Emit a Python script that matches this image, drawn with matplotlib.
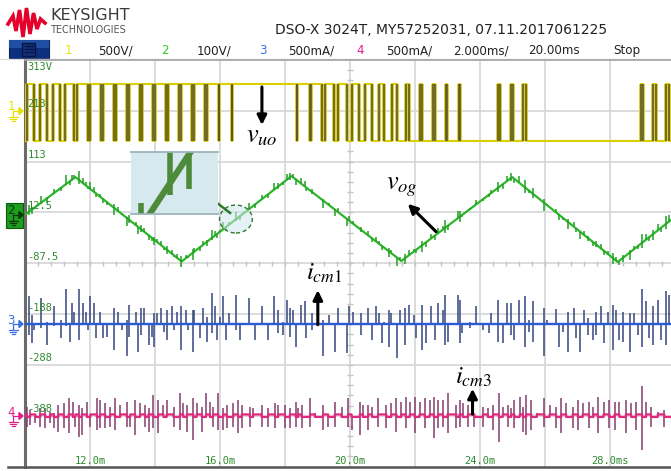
import numpy as np
import matplotlib.pyplot as plt
from matplotlib.patches import Rectangle, Ellipse, Polygon
from matplotlib.collections import LineCollection

plt.rcParams['mathtext.fontset'] = 'stix'

W, H = 671, 471

# scope screen: 10 x 2 ms/div, 8 vertical divisions
T0, T1 = 10.0, 30.0
time_ticks = [12, 16, 20, 24, 28]
time_labels = ["12.0m", "16.0m", "20.0m", "24.0m", "28.0ms"]
ch2_labels = ["313V", "213", "113", "12.5", "-87.5", "-188", "-288", "-388"]

# header
title = "DSO-X 3024T, MY57252031, 07.11.2017061225"
ch_names = ["1", "2", "3", "4"]
ch_scales = ["500V/", "100V/", "500mA/", "500mA/"]
timebase = "2.000ms/"
delay = "20.00ms"
run_state = "Stop"

# ch1 v_uo, 500 V/div, PWM at 0.4 ms, high-time fraction per period
ch1_ground = 7.0
vuo_high, vuo_low = 265, -295
pwm_period = 0.4
pwm_first = 10.17
vuo_duty = [0.47, 0.61, 0.61, 0.69, 0.82, 0.86, 0.86, 0.87, 0.87, 0.88,
            0.88, 0.89, 0.90, 0.91, 0.92, 0.95, 1.0, 1.0, 1.0, 1.0,
            1.0, 0.96, 0.90, 0.75, 0.65, 0.60, 0.55, 0.45, 0.35, 0.18,
            0.15, 0.15, 0.14, 0.12, 0.0, 0.0, 0.15, 0.15, 0.20, 0.0,
            0.0, 0.0, 0.0, 0.0, 0.0, 0.0, 0.0, 0.15, 0.20, 0.25]

# ch2 v_og, 100 V/div, triangle corners
ch2_ground = 4.875
vog_t = [10.0, 11.55, 14.82, 18.20, 21.58, 24.99, 28.24, 30.0]
vog_v = [8, 82, -84, 84, -83, 82, -85, 4]

# ch3 i_cm1, 500 mA/div: spike time (ms), positive and negative peak (mA)
ch3_ground = 2.80
icm1_t = [10.11, 10.21, 10.29, 10.49, 10.69, 10.88, 11.11, 11.26, 11.39, 11.44,
          11.51, 11.65, 11.77, 11.87, 11.95, 12.01, 12.13, 12.19, 12.31, 12.40,
          12.52, 12.75, 12.85, 12.98, 13.13, 13.20, 13.41, 13.49, 13.56, 13.67,
          13.80, 13.90, 13.97, 14.06, 14.19, 14.29, 14.36, 14.53, 14.59, 14.67,
          14.80, 14.95, 15.03, 15.16, 15.20, 15.39, 15.47, 15.59, 15.75, 15.85,
          15.90, 16.00, 16.10, 16.18, 16.29, 16.49, 16.62, 16.89, 17.08, 17.28,
          17.48, 17.66, 17.79, 17.94, 18.05, 18.15, 18.25, 18.33, 18.48, 18.61,
          18.66, 18.84, 19.17, 19.35, 19.53, 19.63, 19.91, 19.97, 20.10, 20.33,
          20.56, 20.68, 20.79, 20.89, 20.97, 21.06, 21.20, 21.27, 21.45, 21.55,
          21.68, 21.82, 21.97, 22.04, 22.20, 22.35, 22.50, 22.61, 22.71, 22.86,
          22.93, 23.03, 23.32, 23.37, 23.46, 23.70, 23.89, 24.09, 24.29, 24.35,
          24.55, 24.70, 24.83, 24.96, 25.06, 25.19, 25.37, 25.52, 25.63, 25.98,
          26.06, 26.34, 26.42, 26.55, 26.70, 26.88, 26.96, 27.09, 27.21, 27.32,
          27.47, 27.57, 27.73, 27.80, 27.93, 28.08, 28.19, 28.29, 28.39, 28.60,
          28.75, 28.85, 28.99, 29.11, 29.21, 29.31, 29.47, 29.57, 29.72, 29.80]
icm1_pos = [274, 92, 0, 257, 20, 175, 43, 347, 0, 208,
            125, 347, 208, 125, 0, 280, 208, 0, 125, 0,
            0, 158, 125, 0, 43, 191, 125, 0, 158, 158,
            0, 0, 109, 109, 158, 0, 142, 175, 0, 125,
            182, 142, 0, 142, 142, 0, 158, 76, 307, 182,
            0, 76, 274, 0, 109, 290, 0, 257, 0, 175,
            0, 274, 142, 26, 241, 158, 142, 0, 191, 224,
            0, 110, 43, 92, 0, 158, 0, 175, 125, 109,
            158, 0, 175, 109, 0, 26, 142, 109, 0, 142,
            158, 191, 92, 0, 191, 0, 175, 0, 208, 142,
            290, 0, 290, 240, 0, 26, 175, 0, 0, 109,
            241, 0, 208, 208, 0, 241, 274, 43, 224, 158,
            43, 149, 0, 0, 125, 158, 0, 0, 142, 59,
            0, 125, 175, 0, 125, 191, 142, 0, 125, 109,
            109, 0, 347, 224, 0, 175, 241, 0, 323, 290]
icm1_neg = [106, 188, 56, 40, 205, 20, 139, 20, 172, 0,
            0, 155, 0, 0, 56, 0, 0, 139, 0, 139,
            122, 254, 0, 56, 314, 122, 0, 271, 106, 0,
            205, 122, 221, 0, 0, 73, 155, 0, 56, 0,
            254, 0, 56, 271, 0, 139, 0, 172, 89, 0,
            155, 0, 0, 155, 0, 56, 155, 0, 155, 0,
            155, 0, 89, 106, 0, 122, 0, 221, 0, 0,
            139, 56, 314, 0, 271, 0, 287, 0, 0, 106,
            0, 155, 0, 0, 188, 0, 221, 0, 337, 0,
            205, 0, 0, 139, 254, 188, 0, 155, 0, 0,
            205, 172, 0, 188, 89, 40, 0, 56, 89, 0,
            172, 188, 0, 106, 155, 0, 221, 73, 172, 314,
            0, 0, 221, 73, 271, 0, 139, 271, 0, 106,
            155, 106, 0, 188, 0, 254, 0, 155, 172, 271,
            0, 106, 221, 0, 139, 205, 0, 155, 205, 0]

# ch4 i_cm3, 500 mA/div
ch4_ground = 1.0
icm3_t = [10.06, 10.16, 10.32, 10.47, 10.62, 10.78, 10.88, 11.03, 11.19, 11.34,
          11.47, 11.55, 11.65, 11.75, 11.90, 12.01, 12.21, 12.31, 12.47, 12.62,
          12.77, 12.93, 13.13, 13.24, 13.39, 13.54, 13.70, 13.80, 13.95, 14.10,
          14.26, 14.36, 14.57, 14.77, 14.87, 14.98, 15.18, 15.28, 15.44, 15.57,
          15.69, 15.79, 15.95, 16.10, 16.21, 16.41, 16.56, 16.67, 16.92, 17.02,
          17.28, 17.48, 17.69, 17.79, 18.00, 18.15, 18.33, 18.41, 18.51, 18.77,
          18.92, 19.17, 19.33, 19.53, 19.74, 19.94, 20.05, 20.30, 20.40, 20.56,
          20.68, 20.86, 21.12, 21.27, 21.43, 21.58, 21.71, 21.84, 21.99, 22.14,
          22.30, 22.45, 22.58, 22.71, 22.86, 23.00, 23.27, 23.37, 23.47, 23.63,
          23.83, 24.09, 24.24, 24.40, 24.58, 24.70, 24.86, 24.96, 25.06, 25.22,
          25.32, 25.42, 25.58, 25.75, 25.98, 26.14, 26.34, 26.50, 26.65, 26.85,
          27.01, 27.16, 27.35, 27.49, 27.62, 27.80, 27.98, 28.14, 28.29, 28.49,
          28.65, 28.80, 28.99, 29.11, 29.26, 29.47, 29.67]
icm3_pos = [89, 56, 0, 73, 73, 40, 23, 106, 122, 172,
            139, 0, 106, 73, 139, 0, 172, 155, 122, 89,
            172, 106, 139, 0, 155, 122, 106, 73, 205, 155,
            106, 155, 89, 221, 122, 106, 172, 122, 89, 221,
            139, 89, 221, 73, 106, 122, 155, 106, 89, 73,
            106, 73, 122, 106, 106, 73, 139, 73, 106, 172,
            23, 106, 0, 139, 89, 172, 0, 139, 106, 106,
            89, 172, 106, 122, 172, 139, 188, 139, 188, 139,
            172, 155, 188, 155, 155, 221, 106, 155, 122, 106,
            0, 89, 73, 106, 221, 89, 106, 73, 155, 188,
            89, 205, 155, 23, 172, 106, 89, 172, 122, 89,
            155, 122, 139, 89, 188, 139, 155, 139, 139, 155,
            122, 139, 294, 139, 89, 40, 56]
icm3_neg = [109, 92, 76, 109, 125, 76, 125, 158, 125, 175,
            0, 109, 208, 191, 0, 109, 142, 125, 125, 109,
            142, 0, 109, 109, 191, 0, 109, 158, 125, 175,
            0, 0, 109, 142, 0, 158, 241, 0, 158, 0,
            0, 109, 142, 142, 125, 109, 175, 125, 109, 0,
            109, 109, 125, 0, 125, 125, 109, 0, 125, 109,
            0, 142, 109, 109, 0, 109, 142, 191, 0, 142,
            0, 109, 125, 0, 158, 0, 125, 0, 175, 0,
            125, 0, 224, 125, 109, 175, 125, 109, 0, 109,
            109, 109, 0, 142, 257, 0, 109, 0, 125, 0,
            158, 191, 142, 0, 109, 0, 125, 175, 0, 125,
            142, 0, 125, 0, 175, 0, 125, 142, 0, 175,
            0, 142, 340, 0, 109, 0, 109]

fig = plt.figure(figsize=(W / 100, H / 100), dpi=100, facecolor='white')

# overlay in pixel units for the scope frame
ov = fig.add_axes([0, 0, 1, 1])
ov.set_xlim(0, W)
ov.set_ylim(H, 0)
ov.axis('off')

ax = fig.add_axes([25 / W, (H - 466.5) / H, 650 / W, (466.5 - 60) / H])
ax.set_zorder(2)
ax.set_xlim(T0, T1)
ax.set_ylim(0, 8)
ax.set_xticks([])
ax.set_yticks([])
ax.set_facecolor('white')
ax.spines['right'].set_visible(False)
ax.spines['left'].set_color('#6b6b6b')
ax.spines['left'].set_linewidth(2.2)
ax.spines['top'].set_color('#a8a8a8')
ax.spines['top'].set_linewidth(1.3)
ax.spines['bottom'].set_color('#555555')
ax.spines['bottom'].set_linewidth(1.8)

# graticule
gcol = '#d6d6d6'
for t in np.arange(12, 30, 2):
    ax.axvline(t, color=gcol, lw=1.2, zorder=0)
for d in range(1, 8):
    ax.axhline(d, color=gcol, lw=1.2, zorder=0)
xt = np.arange(T0 + 0.4, T1, 0.4)
ax.add_collection(LineCollection([[(t, 3.955), (t, 4.045)] for t in xt],
                                 colors='#c4c4c4', lw=1.0, zorder=0.5))
yt = np.arange(0.2, 8, 0.2)
ax.add_collection(LineCollection([[(19.9, d), (20.1, d)] for d in yt],
                                 colors='#c4c4c4', lw=1.0, zorder=0.5))

lab_col = '#2f8a2f'
for i, s in enumerate(ch2_labels):
    d = 8 - i
    if i == 0:
        ax.text(10.08, d - 0.03, s, color=lab_col, fontsize=7.5, family='DejaVu Sans Mono',
                va='top', ha='left', zorder=9)
    else:
        ax.text(10.08, d + 0.03, s, color=lab_col, fontsize=7.5, family='DejaVu Sans Mono',
                va='bottom', ha='left', zorder=9)
for t, s in zip(time_ticks, time_labels):
    ax.text(t, 0.1, s, color=lab_col, fontsize=7.5, family='DejaVu Sans Mono',
            ha='center', va='center', zorder=9)

# ch1 PWM
highs = []
for k, dty in enumerate(vuo_duty):
    if dty <= 0:
        continue
    c = pwm_first + k * pwm_period
    a, b = c - dty * pwm_period / 2, c + dty * pwm_period / 2
    if highs and a <= highs[-1][1] + 1e-6:
        highs[-1] = (highs[-1][0], b)
    else:
        highs.append((a, b))
yh = ch1_ground + vuo_high / 500
yl = ch1_ground + vuo_low / 500
xs, ys, edges = [T0], [yl], []
for a, b in highs:
    a, b = max(a, T0), min(b, T1)
    xs += [a, a, b, b]
    ys += [yl, yh, yh, yl]
    edges += [[(a, yl), (a, yh)], [(b, yl), (b, yh)]]
xs.append(T1)
ys.append(yl)
ax.plot(xs, ys, color='#dccf00', lw=1.5, zorder=3)
ax.add_collection(LineCollection(edges, colors='#d8cc30', lw=2.8, zorder=3.1))
ax.add_collection(LineCollection(edges, colors='#55521f', lw=1.1, zorder=3.2))

# ch2 triangle with switching ripple at the i_cm1 events
g_div = ch2_ground + np.array(vog_v) / 100
ax.plot(vog_t, g_div, color='#2db52d', lw=1.6, zorder=3)
base = np.interp(icm1_t, vog_t, g_div)
gt = [[(t, b - 0.0005 * n), (t, b + 0.0005 * p)]
      for t, b, p, n in zip(icm1_t, base, icm1_pos, icm1_neg)]
ax.add_collection(LineCollection(gt, colors='#22a022', lw=1.1, zorder=3))

# ch3
b3 = ch3_ground
ax.vlines(icm1_t, b3 - np.array(icm1_neg) / 500, b3 + np.array(icm1_pos) / 500,
          colors='#35477f', lw=1.1, zorder=3)
ax.plot([T0, T1], [b3, b3], color='#2a5ad4', lw=1.7, zorder=4)

# ch4
b4 = ch4_ground
ax.vlines(icm3_t, b4 - np.array(icm3_neg) / 500, b4 + np.array(icm3_pos) / 500,
          colors='#843c6c', lw=1.1, zorder=3)
lx, ly, lvl = [T0], [b4], 1
for t in icm3_t:
    lx += [t, t]
    ly += [b4 + 0.025 * lvl, b4 - 0.025 * lvl]
    lvl = -lvl
lx.append(T1)
ly.append(ly[-1])
ax.plot(lx, ly, color='#e0287e', lw=1.6, zorder=4)

# annotations
arr = dict(arrowstyle='-|>', lw=2.2, color='black', mutation_scale=14, shrinkA=0, shrinkB=0)
ax.annotate('', xy=(17.29, 6.72), xytext=(17.29, 7.47), arrowprops=arr, zorder=10)
ax.text(17.3, 6.52, r'$v_{uo}$', fontsize=19, ha='center', va='center', zorder=10)
ax.annotate('', xy=(21.78, 5.17), xytext=(22.65, 4.62), arrowprops=arr, zorder=10)
ax.text(21.6, 5.52, r'$v_{og}$', fontsize=19, ha='center', va='center', zorder=10)
ax.annotate('', xy=(19.01, 3.47), xytext=(19.01, 2.79), arrowprops=arr, zorder=10)
ax.text(19.2, 3.8, r'$i_{\mathit{cm1}}$', fontsize=18, ha='center', va='center', zorder=10)
ax.annotate('', xy=(23.77, 1.53), xytext=(23.77, 1.03), arrowprops=arr, zorder=10)
ax.text(23.8, 1.76, r'$i_{\mathit{cm3}}$', fontsize=18, ha='center', va='center', zorder=10)

ax.add_patch(Ellipse((16.49, 4.87), 1.01, 0.55, fc='#cfe6ee', ec='none', alpha=0.55, zorder=3.5))
ax.add_patch(Ellipse((16.49, 4.87), 1.01, 0.55, fc='none', ec='#2f7a2f', lw=1.0,
                     ls=(0, (3, 2)), zorder=5))
ax.plot([15.78, 16.31], [5.25, 4.99], color='#2b7a2b', lw=1.8, zorder=5)

# magnified view
ins = fig.add_axes([131 / W, (H - 214) / H, 86.7 / W, 61.7 / H])
ins.set_zorder(3)
ins.set_facecolor('#d6e9ef')
ins.set_xlim(16.22, 16.82)
ins.set_ylim(ch2_ground - 0.08, ch2_ground + 0.06)
ins.set_xticks([])
ins.set_yticks([])
for s in ['left', 'right']:
    ins.spines[s].set_visible(False)
for s in ['top', 'bottom']:
    ins.spines[s].set_color('#9db3bb')
    ins.spines[s].set_linewidth(1.3)
ins.plot(vog_t, g_div, color='#4d8b3b', lw=4.5, solid_capstyle='butt')
ins.add_collection(LineCollection(gt, colors='#4d8b3b', lw=4.0))

# header
ov.plot([8, 13, 16, 19.5, 23, 26.5, 30, 33.5, 37, 40.5, 45],
        [24, 16, 31, 10, 37, 8, 34, 13, 29, 19, 23], color='#e4002b', lw=2.6,
        solid_joinstyle='miter')
ov.text(50.5, 16, "KEYSIGHT", fontsize=11.5, color='#3a3a3a', va='center', ha='left')
ov.text(51, 30, "TECHNOLOGIES", fontsize=6.9, color='#555555', va='center', ha='left')
ov.text(441, 30, title, fontsize=10, color='#222222', va='center', ha='center')

ov.add_patch(Rectangle((8.5, 40), 40.5, 18, fc='#0c2f80', ec='#0a2466', lw=0.8))
ov.add_patch(Rectangle((8.5, 40), 40.5, 8, fc='#1f4ea3', ec='none'))
ov.add_patch(Rectangle((22, 42.5), 13, 13, fc='#14307a', ec='#061540', lw=1.0))
for yy in [45.5, 48.5, 51.5]:
    ov.plot([24.5, 32.5], [yy, yy], color='#061540', lw=0.9)

ch_cols = ['#e8e400', '#2ccc2c', '#3a6ee0', '#e0208a']
name_x = [68.5, 165, 263, 360]
scale_x = [115.5, 214, 311, 409]
for n, s, c, nx, sx in zip(ch_names, ch_scales, ch_cols, name_x, scale_x):
    ov.text(nx, 50.5, n, fontsize=8.6, color=c, ha='center', va='center')
    ov.text(sx, 50.5, s, fontsize=8.6, color='#222222', ha='center', va='center')
ov.text(481, 50.5, timebase, fontsize=8.6, color='#222222', ha='center', va='center')
ov.text(554, 50.5, delay, fontsize=8.6, color='#222222', ha='center', va='center')
ov.text(627, 50.5, run_state, fontsize=8.6, color='#222222', ha='center', va='center')
ov.plot([0, W], [59, 59], color='#dcdcdc', lw=1.0)
ov.plot([8, 25], [467, 467], color='#555555', lw=1.8)

# trigger markers
ov.add_patch(Polygon([[345.5, 60.5], [354.5, 60.5], [350, 66]], closed=True,
                     fc='none', ec='#f08a24', lw=1.2, zorder=5))
ov.add_patch(Polygon([[25, 60], [30, 60], [25, 65]], closed=True, fc='#f08a24',
                     ec='none', zorder=5))


def ground_marker(y, label, color, boxed=False):
    tc = color
    if boxed:
        ov.add_patch(Rectangle((6, y - 12), 16.5, 25, fc='#1e9e1e', ec='#0b5a0b', lw=0.8))
        tc = '#083808'
    ov.text(11, y - 4, label, color=tc, fontsize=8.5, ha='center', va='center')
    ov.plot([13, 19], [y, y], color=tc, lw=0.9)
    ov.add_patch(Polygon([[19, y - 3.5], [23, y], [19, y + 3.5]], closed=True, color=tc))
    ov.plot([13, 13], [y, y + 6], color=tc, lw=0.9)
    for i, w in enumerate([4.5, 3.0, 1.5]):
        ov.plot([13 - w, 13 + w], [y + 6 + 2 * i, y + 6 + 2 * i], color=tc, lw=0.9)


ground_marker(111, "1", '#e8e000')
ground_marker(215, "2", '#1e9e1e', boxed=True)
ground_marker(324, "3", '#3a6ee0')
ground_marker(416, "4", '#e0208a')

fig.savefig('out.png', dpi=100, facecolor='white')
